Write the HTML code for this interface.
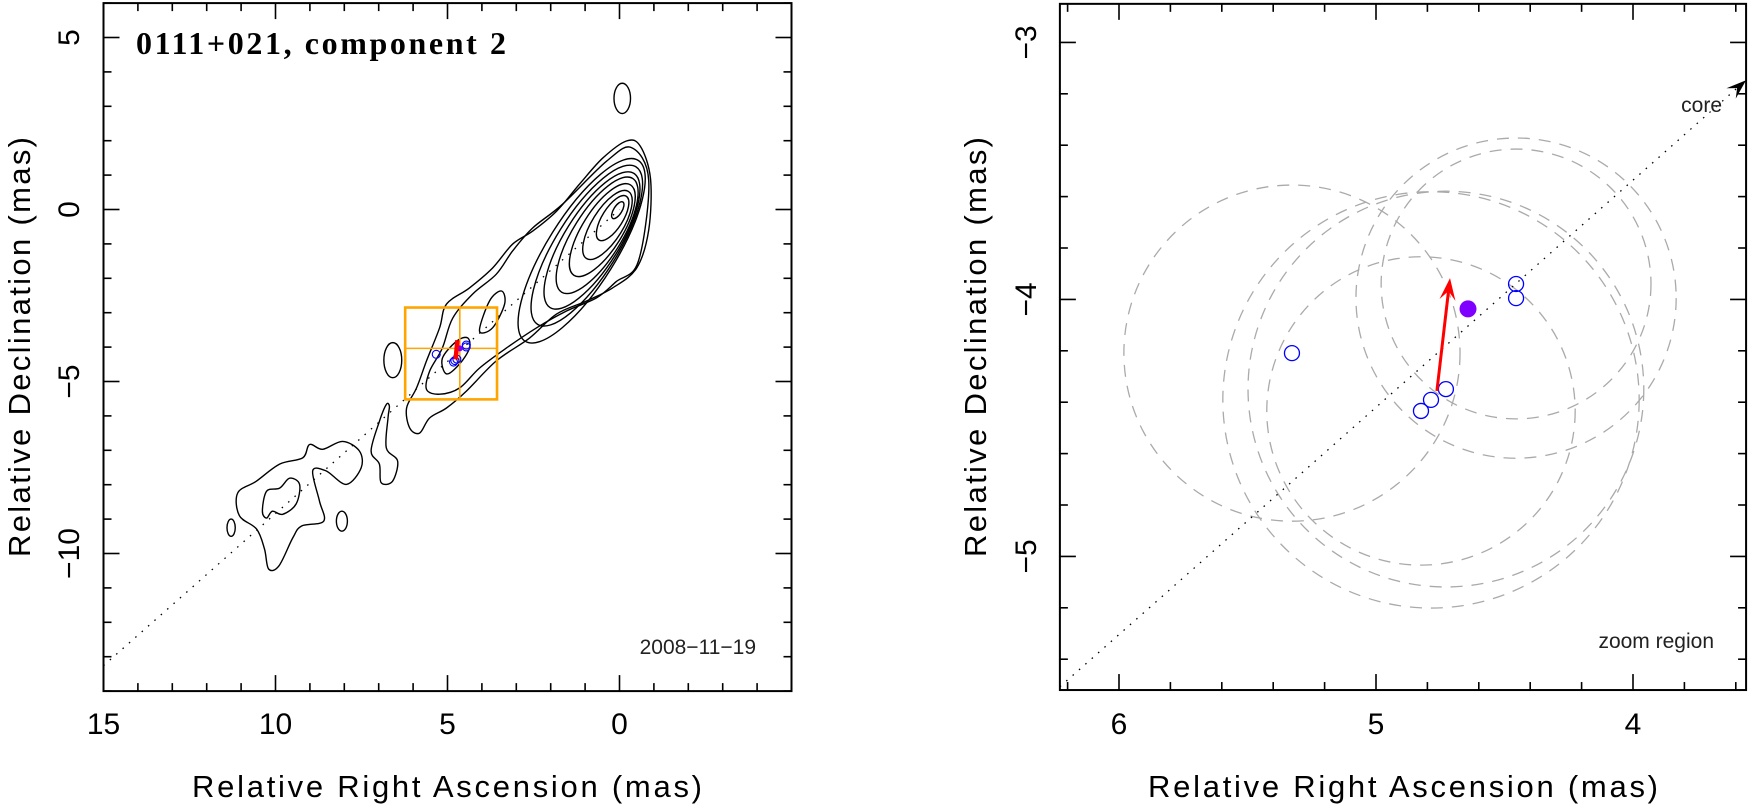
<!DOCTYPE html>
<html><head><meta charset="utf-8"><style>
html,body{margin:0;padding:0;background:#fff;}
svg{display:block;font-family:"Liberation Sans",sans-serif;}
</style></head><body>
<svg id="chart" width="1753" height="811" viewBox="0 0 1753 811" xmlns="http://www.w3.org/2000/svg"></svg>
<script>
// ---------- LEFT PANEL DATA ----------
const leftXTicks = [15, 10, 5, 0];
const leftYTicks = [5, 0, -5, -10];
const leftXTickLabels = ["15", "10", "5", "0"];
const leftYTickLabels = ["5", "0", "\u22125", "\u221210"];
// core contours: [cx, cy, a, b] in mas
const coreContours = [
  [0.05,-0.02,0.28,0.12],[0.2,-0.25,0.75,0.3],[0.35,-0.45,1.15,0.45],[0.5,-0.6,1.55,0.58],
  [0.65,-0.75,1.95,0.7],[0.8,-0.9,2.3,0.8],[0.95,-1.05,2.7,0.9],[1.1,-1.2,3.1,1.0]
];
const coreTilt = 58;
// island ellipses [cx, cy, rx, ry]
const islandEllipses = [[-0.08,3.23,0.24,0.44],[6.59,-4.38,0.26,0.51],[8.07,-9.06,0.16,0.29],[11.29,-9.25,0.12,0.25]];
// contour polygons (mas)
const contourOuter = [[-0.2,1.99],[0.49,1.49],[1.16,0.74],[1.83,-0.05],[2.53,-0.63],[3.11,-1.01],[3.69,-1.70],[4.36,-2.28],[5.03,-2.75],[5.23,-3.44],[5.61,-4.40],[5.90,-5.19],[6.19,-5.77],[6.10,-6.35],[5.81,-6.50],[5.52,-6.06],[5.03,-5.77],[4.45,-5.28],[3.58,-4.40],[2.62,-3.74],[1.83,-3.04],[0.96,-2.66],[0.2,-2.28],[-0.5,-1.7],[-0.85,-0.6],[-0.9,0.9],[-0.6,1.85]];
const contourSecond = [[3.11,-1.21],[3.58,-1.88],[4.27,-2.46],[4.85,-3.16],[5.15,-4.03],[5.52,-4.70],[5.61,-5.23],[5.23,-5.37],[4.65,-5.19],[4.07,-4.61],[3.29,-4.03],[2.41,-3.44],[1.54,-2.95],[0.67,-2.57],[0.1,-2.1],[-0.55,-1.5],[-0.85,0.85],[-0.35,1.8],[0.38,1.4],[1.66,0.15],[2.53,-0.54]];
const contourKnot2 = [[5.15,-4.33],[4.74,-3.83],[4.42,-3.73],[4.36,-4.03],[4.65,-4.49],[5.03,-4.78]];
const contourKnot3 = [[4.07,-3.53],[3.78,-2.66],[3.43,-2.37],[3.34,-2.75],[3.69,-3.44]];
const contourS = [[6.78,-5.67],[6.98,-6.16],[7.22,-7.02],[6.98,-7.40],[6.93,-7.94],[6.60,-7.90],[6.45,-7.31],[6.78,-6.93],[6.73,-6.06],[6.69,-5.72]];
const contourLowLeft = [[10.56,-7.90],[9.88,-7.40],[9.21,-7.22],[9.01,-6.83],[8.63,-6.97],[8.05,-6.74],[7.56,-7.02],[7.51,-7.51],[7.94,-7.99],[8.53,-7.60],[8.92,-7.60],[8.72,-8.48],[8.6,-9.06],[9.24,-9.2],[9.5,-9.55],[9.9,-10.36],[10.2,-10.45],[10.32,-9.87],[10.55,-9.29],[11.05,-8.9],[11.1,-8.24]];
const contourLowLeftInner = [[10.38,-8.77],[10.26,-8.19],[9.88,-8.1],[9.59,-7.81],[9.30,-7.99],[9.40,-8.56],[9.79,-8.86],[10.09,-8.77],[10.26,-8.97]];
const jetSlope = 0.884;
// ---------- RIGHT PANEL DATA ----------
const rightXTicks = [6, 5, 4];
const rightYTicks = [-3, -4, -5];
const rightXTickLabels = ["6", "5", "4"];
const rightYTickLabels = ["\u22123", "\u22124", "\u22125"];
const compX = [5.327, 4.455, 4.455, 4.728, 4.786, 4.825];
const compY = [-4.209, -3.940, -3.995, -4.349, -4.391, -4.434];
const compErr = [0.654, 0.525, 0.623, 0.77, 0.81, 0.60];
const meanPos = [4.642, -4.037];
const vecStart = [4.763, -4.356];
const vecEnd = [4.712, -3.917];
const zoomRange = [6.23, 3.56, -2.85, -5.52];

// ---------- helpers ----------
const NS = "http://www.w3.org/2000/svg";
const svg = document.getElementById("chart");
function mk(tag, attrs, parent) {
  const e = document.createElementNS(NS, tag);
  for (const k in attrs) e.setAttribute(k, attrs[k]);
  (parent || svg).appendChild(e);
  return e;
}
function smooth(pts) {
  const n = pts.length; let d = "M" + pts[0][0].toFixed(1) + "," + pts[0][1].toFixed(1);
  for (let i = 0; i < n; i++) {
    const p0 = pts[(i - 1 + n) % n], p1 = pts[i], p2 = pts[(i + 1) % n], p3 = pts[(i + 2) % n];
    const c1 = [p1[0] + (p2[0] - p0[0]) / 6, p1[1] + (p2[1] - p0[1]) / 6];
    const c2 = [p2[0] - (p3[0] - p1[0]) / 6, p2[1] - (p3[1] - p1[1]) / 6];
    d += "C" + c1[0].toFixed(1) + "," + c1[1].toFixed(1) + " " + c2[0].toFixed(1) + "," + c2[1].toFixed(1) + " " + p2[0].toFixed(1) + "," + p2[1].toFixed(1);
  }
  return d + "Z";
}

// axis functions
const LX0 = 103.5, LS = 34.4, LY0 = 209.5;
const lx = v => LX0 + (15 - v) * LS;
const ly = v => LY0 - v * LS;
const RS = 257;
const rx = v => 1119 + (6 - v) * RS;
const ry = v => 299.4 + (-4 - v) * RS;

function drawAxes(g, xmin, xmax, ymin, ymax, X, Y, minorStep, majorEvery, name) {
  const x1 = X(xmin), x2 = X(xmax), y1 = Y(ymax), y2 = Y(ymin);
  const ticks = mk("g", {stroke: "#000", "stroke-width": 1.6}, g);
  
  
  const lo = Math.ceil(Math.min(xmin, xmax) / minorStep - 1e-6), hi = Math.floor(Math.max(xmin, xmax) / minorStep + 1e-6);
  for (let i = lo; i <= hi; i++) {
    const v = i * minorStep, px = X(v), L = (Math.abs(i % majorEvery) === 0) ? 16 : 8;
    mk("line", {x1: px, y1: y2, x2: px, y2: y2 - L}, ticks);
    mk("line", {x1: px, y1: y1, x2: px, y2: y1 + L}, ticks);
  }
  const lo2 = Math.ceil(ymin / minorStep - 1e-6), hi2 = Math.floor(ymax / minorStep + 1e-6);
  for (let i = lo2; i <= hi2; i++) {
    const v = i * minorStep, py = Y(v), L = (Math.abs(i % majorEvery) === 0) ? 16 : 8;
    mk("line", {x1: x1, y1: py, x2: x1 + L, y2: py}, ticks);
    mk("line", {x1: x2, y1: py, x2: x2 - L, y2: py}, ticks);
  }
  const frame = mk("rect", {x: x1, y: y1, width: x2 - x1, height: y2 - y1, fill: "none", stroke: "#000", "stroke-width": 2}, g);
  
  
}
function drawLabels(g, xt, xl, yt, yl, X, Y, yLabelX, name) {
  xt.forEach((v, i) => {
    const t = mk("text", {x: X(v), y: 734, "font-size": 30, "text-anchor": "middle", fill: "#000"}, g);
    
    
    t.textContent = xl[i];
  });
  yt.forEach((v, i) => {
    const t = mk("text", {x: 0, y: 0, "font-size": 30, "text-anchor": "middle", fill: "#000", transform: "translate(" + yLabelX + "," + Y(v) + ") rotate(-90)"}, g);
    
    
    t.textContent = yl[i];
  });
}

// ---------- LEFT PANEL ----------
const gl = mk("g", {});



const jet = mk("line", {x1: lx(15), y1: ly(15 * -jetSlope), x2: lx(0), y2: ly(0), stroke: "#000", "stroke-width": 1.3, "stroke-dasharray": "1.5 7"}, gl);



const gc = mk("g", {fill: "none", stroke: "#000", "stroke-width": 1.4}, gl);


coreContours.forEach(c => {
  const e = mk("ellipse", {cx: lx(c[0]), cy: ly(c[1]), rx: c[2] * LS, ry: c[3] * LS, transform: "rotate(" + (-coreTilt) + " " + lx(c[0]) + " " + ly(c[1]) + ")"}, gc);
  
  
});
islandEllipses.forEach(c => {
  const e = mk("ellipse", {cx: lx(c[0]), cy: ly(c[1]), rx: c[2] * LS, ry: c[3] * LS}, gc);
  
  
});
[contourOuter, contourSecond, contourKnot2, contourKnot3, contourS, contourLowLeft, contourLowLeftInner].forEach(poly => {
  const p = mk("path", {d: smooth(poly.map(q => [lx(q[0]), ly(q[1])]))}, gc);
  
  
});

// zoom box
const zb = mk("g", {fill: "none", stroke: "#FFA500"}, gl);


mk("rect", {x: lx(zoomRange[0]), y: ly(zoomRange[2]), width: lx(zoomRange[1]) - lx(zoomRange[0]), height: ly(zoomRange[3]) - ly(zoomRange[2]), "stroke-width": 2.6}, zb);
mk("line", {x1: lx(zoomRange[0]), y1: ly(meanPos[1]), x2: lx(zoomRange[1]), y2: ly(meanPos[1]), "stroke-width": 1.6}, zb);
mk("line", {x1: lx(meanPos[0]), y1: ly(zoomRange[2]), x2: lx(meanPos[0]), y2: ly(zoomRange[3]), "stroke-width": 1.6}, zb);

compX.forEach((v, i) => {
  const c = mk("circle", {cx: lx(v), cy: ly(compY[i]), r: 4, fill: "none", stroke: "#0000ff", "stroke-width": 1.1}, gl);
  
  
});
const lm = mk("circle", {cx: lx(meanPos[0]), cy: ly(meanPos[1]), r: 3, fill: "#7f00ff"}, gl);


const lv = mk("line", {x1: lx(vecStart[0]), y1: ly(vecStart[1]), x2: lx(vecEnd[0]), y2: ly(vecEnd[1]) - 4, stroke: "#ff0000", "stroke-width": 4.5}, gl);



drawAxes(gl, 15, -5, -14, 6, lx, ly, 1, 5, 'left');
drawLabels(gl, leftXTicks, leftXTickLabels, leftYTicks, leftYTickLabels, lx, ly, 79, 'left');

const lt = mk("text", {x: 136, y: 54, "font-size": 32, "font-family": "Liberation Serif, serif", fill: "#000", textLength: 370, "font-weight": "bold"}, gl);


lt.textContent = "0111+021, component 2";
const ld = mk("text", {x: 756, y: 654, "font-size": 21, "text-anchor": "end", fill: "#222"}, gl);


ld.textContent = "2008\u221211\u221219";
const lxt = mk("text", {x: 447, y: 797, "font-size": 31, "text-anchor": "middle", fill: "#000", textLength: 510}, gl);


lxt.textContent = "Relative Right Ascension (mas)";
const lyt = mk("text", {x: 0, y: 0, "font-size": 31, "text-anchor": "middle", fill: "#000", textLength: 420, transform: "translate(30,347) rotate(-90)"}, gl);


lyt.textContent = "Relative Declination (mas)";

// ---------- RIGHT PANEL ----------
const gr = mk("g", {});


const clip = mk("clipPath", {id: "rclip"}, gr);
mk("rect", {x: rx(zoomRange[0]), y: ry(zoomRange[2]), width: rx(zoomRange[1]) - rx(zoomRange[0]), height: ry(zoomRange[3]) - ry(zoomRange[2])}, clip);
const gin = mk("g", {"clip-path": "url(#rclip)"}, gr);

compX.forEach((v, i) => {
  const c = mk("circle", {cx: rx(v), cy: ry(compY[i]), r: compErr[i] * RS, fill: "none", stroke: "#aaa", "stroke-width": 1.3, "stroke-dasharray": "12 9"}, gin);
  
  
});
const rj = mk("line", {x1: rx(zoomRange[0]), y1: ry(-jetSlope * zoomRange[0]), x2: rx(zoomRange[1]), y2: ry(-jetSlope * zoomRange[1]), stroke: "#000", "stroke-width": 1.3, "stroke-dasharray": "1.5 7"}, gin);


{
  const ex = rx(zoomRange[1]), ey = ry(-jetSlope * zoomRange[1]);
  const ang = Math.atan2(ey - ry(-jetSlope * 4), ex - rx(4));
  const L = 20, W = 7;
  const bx = ex - L * Math.cos(ang), by = ey - L * Math.sin(ang);
  const nx = -Math.sin(ang), ny = Math.cos(ang);
  const ah = mk("path", {d: "M" + ex + "," + ey + "L" + (bx + nx * W) + "," + (by + ny * W) + "L" + (ex - 0.6 * L * Math.cos(ang)) + "," + (ey - 0.6 * L * Math.sin(ang)) + "L" + (bx - nx * W) + "," + (by - ny * W) + "Z", fill: "#000"}, gin);
  
  
}
compX.forEach((v, i) => {
  const c = mk("circle", {cx: rx(v), cy: ry(compY[i]), r: 7.5, fill: "none", stroke: "#0000ff", "stroke-width": 1.3}, gin);
  
  
});
const rm = mk("circle", {cx: rx(meanPos[0]), cy: ry(meanPos[1]), r: 8.5, fill: "#7f00ff"}, gin);


{
  const x1 = rx(vecStart[0]), y1 = ry(vecStart[1]), x2 = rx(vecEnd[0]), y2 = ry(vecEnd[1]);
  const ang = Math.atan2(y2 - y1, x2 - x1), L = 22, W = 8;
  const bx = x2 - L * Math.cos(ang), by = y2 - L * Math.sin(ang), nx = -Math.sin(ang), ny = Math.cos(ang);
  const vg = mk("g", {}, gin);
  
  
  mk("line", {x1: x1, y1: y1, x2: x2 - 0.6 * L * Math.cos(ang), y2: y2 - 0.6 * L * Math.sin(ang), stroke: "#ff0000", "stroke-width": 3}, vg);
  mk("path", {d: "M" + x2 + "," + y2 + "L" + (bx + nx * W) + "," + (by + ny * W) + "L" + (x2 - 0.6 * L * Math.cos(ang)) + "," + (y2 - 0.6 * L * Math.sin(ang)) + "L" + (bx - nx * W) + "," + (by - ny * W) + "Z", fill: "#ff0000"}, vg);
}

drawAxes(gr, zoomRange[0], zoomRange[1], zoomRange[3], zoomRange[2], rx, ry, 0.2, 5, 'right');
drawLabels(gr, rightXTicks, rightXTickLabels, rightYTicks, rightYTickLabels, rx, ry, 1036, 'right');

const rc = mk("text", {x: 1722, y: 112, "font-size": 21, "text-anchor": "end", fill: "#222"}, gr);


rc.textContent = "core";
const rz = mk("text", {x: 1714, y: 648, "font-size": 21, "text-anchor": "end", fill: "#222"}, gr);


rz.textContent = "zoom region";
const rxt = mk("text", {x: 1403, y: 797, "font-size": 31, "text-anchor": "middle", fill: "#000", textLength: 510}, gr);


rxt.textContent = "Relative Right Ascension (mas)";
const ryt = mk("text", {x: 0, y: 0, "font-size": 31, "text-anchor": "middle", fill: "#000", textLength: 420, transform: "translate(986,347) rotate(-90)"}, gr);


ryt.textContent = "Relative Declination (mas)";
</script>
</body></html>
